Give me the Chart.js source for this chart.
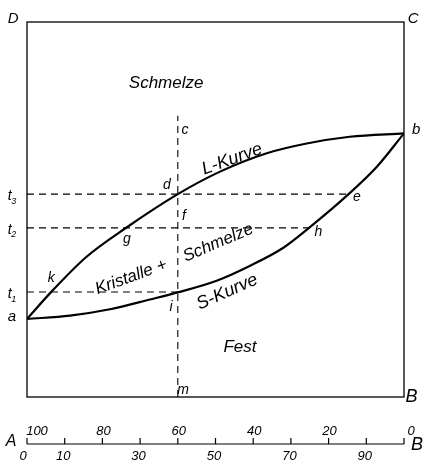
<!DOCTYPE html>
<html>
<head>
<meta charset="utf-8">
<script src="https://cdn.jsdelivr.net/npm/chart.js@4"></script>
<style>
html,body{margin:0;padding:0;background:#fff;}
#wrap{width:423px;height:465px;position:relative;}
</style>
</head>
<body>
<div id="wrap"><canvas id="c"></canvas></div>
<script>
// ---- data (x = % B, y = temperature, arbitrary units 0..100) ----
const lCurveX = [0, 6.5, 15.8, 26.4, 40, 51.2, 63.6, 74.2, 85.6, 100];
const lCurveY = [20.8, 28.1, 37.4, 45.2, 54.1, 60.1, 65.0, 67.6, 69.4, 70.3];
const sCurveX = [0, 11.4, 22.0, 32.6, 40, 50.3, 59.2, 68.0, 74.8, 85.3, 92.8, 100];
const sCurveY = [20.8, 21.7, 23.4, 26.0, 27.9, 31.0, 35.0, 39.8, 45.1, 54.1, 61.4, 70.3];
const isoTemps = [54.1, 45.1, 28.0];       // t3, t2, t1
const isoEndX  = [85.3, 74.8, 40];         // e, h, i
const isoNames = ['3', '2', '1'];
const alloyX = 40;                          // vertical c–m
const alloyTopY = 75;
const rulerTicks = [0,10,20,30,40,50,60,70,80,90,100];
const rulerTopLabels = ['100','80','60','40','20','0'];   // % A
const rulerTopPos    = [0,20,40,60,80,100];
const rulerBotLabels = ['0','10','30','50','70','90'];    // % B
const rulerBotPos    = [0,10,30,50,70,90];

const pts = (xs, ys) => xs.map((x, i) => ({x, y: ys[i]}));

const datasets = [
  {data: pts(lCurveX, lCurveY), borderColor:'#000', borderWidth:2.2, pointRadius:0, cubicInterpolationMode:'monotone', fill:false},
  {data: pts(sCurveX, sCurveY), borderColor:'#000', borderWidth:2.2, pointRadius:0, cubicInterpolationMode:'monotone', fill:false},
];
isoTemps.forEach((t, i) => {
  datasets.push({data:[{x:0,y:t},{x:isoEndX[i],y:t}], borderColor:'#000', borderWidth:1.1, borderDash:[7,5], pointRadius:0, tension:0});
});
datasets.push({data:[{x:alloyX,y:0},{x:alloyX,y:alloyTopY}], borderColor:'#000', borderWidth:1.1, borderDash:[7,5], pointRadius:0, tension:0});

const F = 'Liberation Sans, Arial, sans-serif';
const labels = [
  {t:'D', x:-3.7, y:100.8, s:15},
  {t:'C', x:102.4, y:100.8, s:15},
  {t:'b', x:103.2, y:71.2, s:15},
  {t:'a', x:-4.0, y:21.3, s:15},
  {t:'B', x:102.0, y:0, s:18},
  {t:'c', x:41.9, y:71.2, s:14},
  {t:'d', x:37.1, y:56.5, s:14},
  {t:'f', x:41.6, y:48.3, s:14},
  {t:'g', x:26.5, y:42.1, s:14},
  {t:'k', x:6.4, y:31.7, s:14},
  {t:'i', x:38.2, y:24.0, s:14},
  {t:'e', x:87.5, y:53.3, s:14},
  {t:'h', x:77.3, y:44.0, s:14},
  {t:'m', x:41.4, y:1.9, s:14},
  {t:'Schmelze', x:36.9, y:83.7, s:17},
  {t:'Fest', x:56.5, y:13.3, s:17},
  {t:'L-Kurve', x:54.4, y:63.4, s:18, r:-20},
  {t:'S-Kurve', x:53.1, y:28.0, s:18, r:-24},
  {t:'Kristalle +', x:27.6, y:32.0, s:17, r:-20},
  {t:'Schmelze', x:50.7, y:41.1, s:17, r:-23},
];

const deco = {
  id:'deco',
  afterDatasetsDraw(chart){
    const {ctx, scales:{x, y}} = chart;
    const X = v => x.getPixelForValue(v), Y = v => y.getPixelForValue(v);
    ctx.save();
    ctx.strokeStyle = '#000'; ctx.fillStyle = '#000';
    // frame
    ctx.lineWidth = 1.3;
    ctx.strokeRect(X(0), Y(100), X(100)-X(0), Y(0)-Y(100));
    // texts
    ctx.textAlign = 'center'; ctx.textBaseline = 'middle';
    labels.forEach(l => {
      ctx.save();
      ctx.translate(X(l.x), Y(l.y));
      if (l.r) ctx.rotate(l.r*Math.PI/180);
      ctx.font = `italic ${l.s}px ${F}`;
      ctx.fillText(l.t, 0, 0);
      ctx.restore();
    });
    // temperature labels t1..t3
    isoTemps.forEach((t, i) => {
      const px = X(-4.3), py = Y(t) + 2;
      ctx.font = `italic 14px ${F}`;
      ctx.fillText('t', px - 1, py);
      ctx.font = `italic 9px ${F}`;
      ctx.fillText(isoNames[i], px + 3, py + 5);
    });
    // ruler
    const ry = Y(0) + 47;
    ctx.lineWidth = 1.2;
    ctx.beginPath(); ctx.moveTo(X(0), ry); ctx.lineTo(X(100), ry); ctx.stroke();
    rulerTicks.forEach(v => { ctx.beginPath(); ctx.moveTo(X(v), ry); ctx.lineTo(X(v), ry-6); ctx.stroke(); });
    ctx.font = `italic 13px ${F}`;
    rulerTopLabels.forEach((t, i) => {
      const v = rulerTopPos[i];
      let dx = 1;
      if (v === 0) dx = 10; else if (v === 100) dx = 7;
      ctx.fillText(t, X(v) + dx, ry - 13);
    });
    rulerBotLabels.forEach((t, i) => {
      const v = rulerBotPos[i];
      let dx = -1.5;
      if (v === 0) dx = -4;
      ctx.fillText(t, X(v) + dx, ry + 12);
    });
    ctx.font = `italic 16px ${F}`;
    ctx.fillText('A', X(0) - 16, ry - 2);
    ctx.font = `italic 18px ${F}`;
    ctx.fillText('B', X(100) + 13, ry + 1);
    ctx.restore();
  }
};

new Chart(document.getElementById('c'), {
  type:'line',
  data:{datasets},
  options:{
    responsive:true, maintainAspectRatio:false, animation:false,
    layout:{padding:{left:27, right:19, top:22, bottom:68}},
    plugins:{legend:{display:false}, tooltip:{enabled:false}},
    scales:{
      x:{type:'linear', min:0, max:100, display:false},
      y:{type:'linear', min:0, max:100, display:false}
    },
    elements:{line:{borderCapStyle:'butt'}}
  },
  plugins:[deco]
});
</script>
</body>
</html>
